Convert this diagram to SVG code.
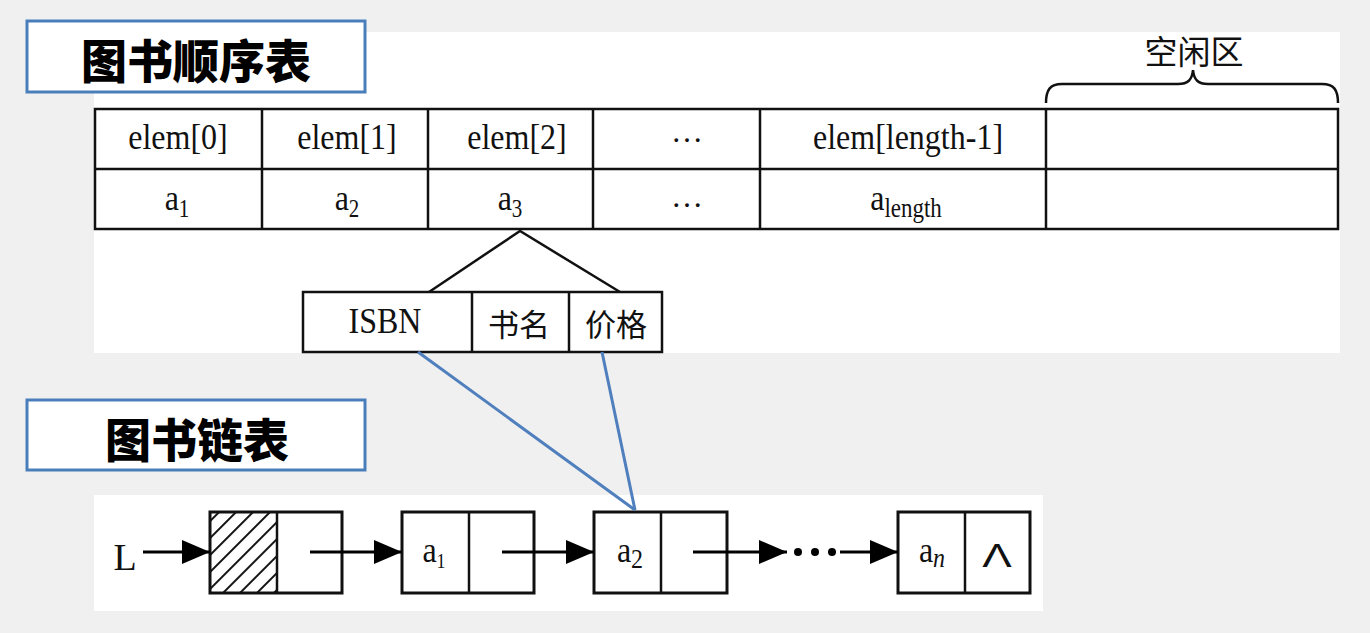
<svg xmlns="http://www.w3.org/2000/svg" width="1370" height="633" viewBox="0 0 1370 633">
<defs>
<style>
.bg{fill:#f0f0f0}
.panel{fill:#ffffff}
.title{fill:#ffffff;stroke:#4a7ebb;stroke-width:3}
.ttxt{font-family:"Noto Sans CJK SC","Noto Sans",sans-serif;font-weight:900;font-size:46px;fill:#000;text-anchor:middle;dominant-baseline:central}
.cjk{font-family:"Noto Sans CJK SC",sans-serif;font-weight:400;fill:#111;text-anchor:middle;dominant-baseline:central}
.ser{font-family:"Liberation Serif","Times New Roman",serif;fill:#111;text-anchor:middle}
.sans{font-family:"Liberation Sans",Arial,sans-serif;fill:#111;text-anchor:middle}
.cell{fill:#ffffff;stroke:#111;stroke-width:2.5}
.ln{stroke:#111;stroke-width:2.5;fill:none}
.node{fill:#ffffff;stroke:#111;stroke-width:3}
.arr{stroke:#000;stroke-width:3;fill:none;marker-end:url(#ah)}
.blue{stroke:#4f7fbd;stroke-width:3;fill:none}
</style>
<marker id="ah" markerUnits="userSpaceOnUse" markerWidth="30" markerHeight="24" refX="28" refY="12" orient="auto">
<path d="M0,0 L28,12 L0,24 Z" fill="#000"/>
</marker>
<pattern id="hatch" patternUnits="userSpaceOnUse" width="12" height="12" patternTransform="rotate(45)">
<line x1="1" y1="0" x2="1" y2="12" stroke="#111" stroke-width="2"/>
</pattern>
</defs>
<rect class="bg" x="0" y="0" width="1370" height="633"/>
<rect class="panel" x="94" y="32" width="1246" height="321"/>
<rect class="panel" x="94" y="495" width="949" height="116"/>

<g id="title-seq">
<rect class="title" x="27" y="21" width="338" height="71"/>
<text class="ttxt" x="196" y="58">图书顺序表</text>
</g>

<g id="free-area">
<path class="ln" d="M1046,103 C1046,90 1050,84 1062,84 L1178,84 C1188,84 1192,80 1193,70 C1194,80 1198,84 1208,84 L1322,84 C1334,84 1338,90 1338,103" stroke-width="2"/>
<text class="cjk" x="1194" y="50" font-size="33">空闲区</text>
</g>

<g id="seq-table">
<rect class="cell" x="95" y="109" width="1243" height="120"/>
<line class="ln" x1="95" y1="169" x2="1338" y2="169"/>
<line class="ln" x1="262" y1="109" x2="262" y2="229"/>
<line class="ln" x1="428" y1="109" x2="428" y2="229"/>
<line class="ln" x1="593" y1="109" x2="593" y2="229"/>
<line class="ln" x1="760" y1="109" x2="760" y2="229"/>
<line class="ln" x1="1046" y1="109" x2="1046" y2="229"/>
<text class="ser" font-size="32" transform="translate(178,149) scale(1,1.15)" x="0" y="0">elem[0]</text>
<text class="ser" font-size="32" transform="translate(347,149) scale(1,1.15)" x="0" y="0">elem[1]</text>
<text class="ser" font-size="32" transform="translate(517,149) scale(1,1.15)" x="0" y="0">elem[2]</text>
<text class="ser" font-size="32" transform="translate(687,142)" x="0" y="0">…</text>
<text class="ser" font-size="32" transform="translate(908,149) scale(1,1.15)" x="0" y="0">elem[length-1]</text>
<text class="ser" font-size="32" transform="translate(177,210) scale(1,1.15)" x="0" y="0">a<tspan font-size="21" dy="6">1</tspan></text>
<text class="ser" font-size="32" transform="translate(347,210) scale(1,1.15)" x="0" y="0">a<tspan font-size="21" dy="6">2</tspan></text>
<text class="ser" font-size="32" transform="translate(510,210) scale(1,1.15)" x="0" y="0">a<tspan font-size="21" dy="6">3</tspan></text>
<text class="ser" font-size="32" transform="translate(687,207)" x="0" y="0">…</text>
<text class="ser" font-size="32" transform="translate(906,210) scale(1,1.15)" x="0" y="0">a<tspan font-size="23" dy="6">length</tspan></text>
</g>

<g id="record">
<path class="ln" d="M429,292 L520,231 L620,292"/>
<rect class="cell" x="303" y="292" width="359" height="60"/>
<line class="ln" x1="472" y1="292" x2="472" y2="352"/>
<line class="ln" x1="569" y1="292" x2="569" y2="352"/>
<text class="ser" font-size="32" transform="translate(385,333) scale(1,1.1)" x="0" y="0">ISBN</text>
<text class="cjk" x="519" y="322" font-size="31">书名</text>
<text class="cjk" x="616" y="322" font-size="31">价格</text>
</g>

<g id="title-link">
<rect class="title" x="27" y="400" width="338" height="70"/>
<text class="ttxt" x="197" y="437">图书链表</text>
</g>

<g id="head">
<text class="ser" font-size="38" x="125" y="570">L</text>
<rect x="210" y="512" width="67" height="81" fill="url(#hatch)"/>
<rect x="210" y="512" width="132" height="81" fill="none" stroke="#111" stroke-width="3"/>
<line class="ln" x1="277" y1="512" x2="277" y2="593" stroke-width="3"/>
</g>

<g id="node-a1">
<rect class="node" x="402" y="512" width="132" height="81"/>
<line class="ln" x1="469" y1="512" x2="469" y2="593" stroke-width="3"/>
<text class="ser" font-size="32" transform="translate(434,562) scale(1,1.15)" x="0" y="0">a<tspan font-size="18" dy="5">1</tspan></text>
</g>

<g id="node-a2">
<rect class="node" x="594" y="512" width="133" height="81"/>
<line class="ln" x1="661" y1="512" x2="661" y2="593" stroke-width="3"/>
<text class="ser" font-size="32" transform="translate(630,562) scale(1,1.15)" x="0" y="0">a<tspan font-size="24" dy="5">2</tspan></text>
</g>

<g id="node-an">
<rect class="node" x="898" y="512" width="132" height="81"/>
<line class="ln" x1="965" y1="512" x2="965" y2="593" stroke-width="3"/>
<text class="ser" font-size="32" transform="translate(932,562) scale(1,1.15)" x="0" y="0">a<tspan font-size="24" font-style="italic" dy="4">n</tspan></text>
<text class="sans" font-size="34" transform="translate(997,567) scale(1.3,1)" x="0" y="0">Λ</text>
</g>

<g id="connectors">
<line class="arr" x1="143" y1="552" x2="210" y2="552"/>
<line class="arr" x1="310" y1="552" x2="402" y2="552"/>
<line class="arr" x1="502" y1="552" x2="594" y2="552"/>
<line class="arr" x1="693" y1="552" x2="787" y2="552"/>
<circle cx="798" cy="552" r="4" fill="#000"/>
<circle cx="815" cy="552" r="4" fill="#000"/>
<circle cx="832" cy="552" r="4" fill="#000"/>
<line class="arr" x1="840" y1="552" x2="898" y2="552"/>
<line class="blue" x1="418" y1="352" x2="635" y2="510"/>
<line class="blue" x1="602" y1="352" x2="635" y2="510"/>
</g>
</svg>
